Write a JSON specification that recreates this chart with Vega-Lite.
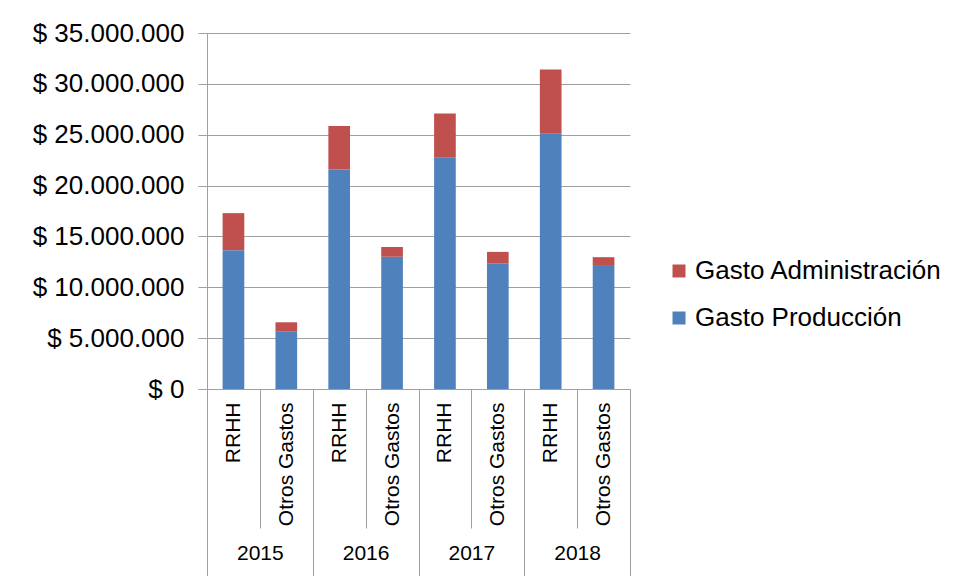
{
  "$schema": "https://vega.github.io/schema/vega-lite/v6.json",
  "width": 423,
  "height": 356,
  "autosize": {"type": "none"},
  "padding": {"left": 207, "top": 33, "right": 330, "bottom": 187},
  "background": "white",
  "config": {"font": "Liberation Sans", "view": {"stroke": null}},
  "data": {
    "values": [
      {"anio": "2015", "grupo": "2015 RRHH", "serie": "Gasto Producción", "valor": 13650000},
      {"anio": "2015", "grupo": "2015 RRHH", "serie": "Gasto Administración", "valor": 3640000},
      {"anio": "2015", "grupo": "2015 Otros Gastos", "serie": "Gasto Producción", "valor": 5670000},
      {"anio": "2015", "grupo": "2015 Otros Gastos", "serie": "Gasto Administración", "valor": 890000},
      {"anio": "2016", "grupo": "2016 RRHH", "serie": "Gasto Producción", "valor": 21580000},
      {"anio": "2016", "grupo": "2016 RRHH", "serie": "Gasto Administración", "valor": 4270000},
      {"anio": "2016", "grupo": "2016 Otros Gastos", "serie": "Gasto Producción", "valor": 12990000},
      {"anio": "2016", "grupo": "2016 Otros Gastos", "serie": "Gasto Administración", "valor": 980000},
      {"anio": "2017", "grupo": "2017 RRHH", "serie": "Gasto Producción", "valor": 22730000},
      {"anio": "2017", "grupo": "2017 RRHH", "serie": "Gasto Administración", "valor": 4360000},
      {"anio": "2017", "grupo": "2017 Otros Gastos", "serie": "Gasto Producción", "valor": 12370000},
      {"anio": "2017", "grupo": "2017 Otros Gastos", "serie": "Gasto Administración", "valor": 1110000},
      {"anio": "2018", "grupo": "2018 RRHH", "serie": "Gasto Producción", "valor": 25090000},
      {"anio": "2018", "grupo": "2018 RRHH", "serie": "Gasto Administración", "valor": 6330000},
      {"anio": "2018", "grupo": "2018 Otros Gastos", "serie": "Gasto Producción", "valor": 12100000},
      {"anio": "2018", "grupo": "2018 Otros Gastos", "serie": "Gasto Administración", "valor": 860000}
    ]
  },
  "layer": [
    {
      "mark": {"type": "bar", "width": {"band": 0.41}},
      "encoding": {
        "x": {
          "field": "grupo",
          "type": "nominal",
          "sort": ["2015 RRHH", "2015 Otros Gastos", "2016 RRHH", "2016 Otros Gastos", "2017 RRHH", "2017 Otros Gastos", "2018 RRHH", "2018 Otros Gastos"],
          "scale": {"paddingInner": 0, "paddingOuter": 0},
          "axis": {
            "title": null,
            "orient": "bottom",
            "labelExpr": "isString(datum.value) ? substring(datum.value, 5) : ''",
            "labelAngle": -90,
            "labelFontSize": 21,
            "labelColor": "black",
            "labelPadding": -126,
            "labelOverlap": false,
            "tickBand": "extent",
            "tickSize": 139,
            "tickColor": "#A0A0A0",
            "domainColor": "#A0A0A0",
            "grid": false
          }
        },
        "y": {
          "field": "valor",
          "type": "quantitative",
          "scale": {"domain": [0, 35000000], "nice": false},
          "axis": {
            "title": null,
            "values": [0, 5000000, 10000000, 15000000, 20000000, 25000000, 30000000, 35000000],
            "labelExpr": "'$ ' + replace(format(datum.value, ',d'), regexp(',', 'g'), '.')",
            "grid": true,
            "gridColor": "#A0A0A0",
            "domainColor": "#A0A0A0",
            "tickColor": "#A0A0A0",
            "tickSize": 9,
            "labelFontSize": 26,
            "labelPadding": 14,
            "labelColor": "black"
          }
        },
        "color": {
          "field": "serie",
          "type": "nominal",
          "scale": {"domain": ["Gasto Administración", "Gasto Producción"], "range": ["#C0504D", "#4F81BD"]},
          "legend": {
            "orient": "none",
            "legendX": 459,
            "legendY": 225,
            "title": null,
            "symbolType": "square",
            "symbolSize": 169,
            "symbolStrokeWidth": 0,
            "labelFontSize": 26,
            "labelColor": "black",
            "labelOffset": 3,
            "rowPadding": 21,
            "labelLimit": 400
          }
        },
        "order": {"field": "serie", "sort": "descending"}
      }
    },
    {
      "mark": {"type": "rule", "strokeOpacity": 0},
      "encoding": {
        "x": {
          "field": "anio",
          "type": "nominal",
          "scale": {"type": "band", "paddingInner": 0, "paddingOuter": 0},
          "axis": {
            "title": null,
            "orient": "bottom",
            "domain": false,
            "tickBand": "extent",
            "tickSize": 187,
            "tickColor": "#A0A0A0",
            "labelAngle": 0,
            "labelFontSize": 21,
            "labelPadding": -34,
            "labelColor": "black",
            "grid": false
          }
        }
      }
    }
  ],
  "resolve": {"scale": {"x": "independent"}, "axis": {"x": "independent"}}
}
